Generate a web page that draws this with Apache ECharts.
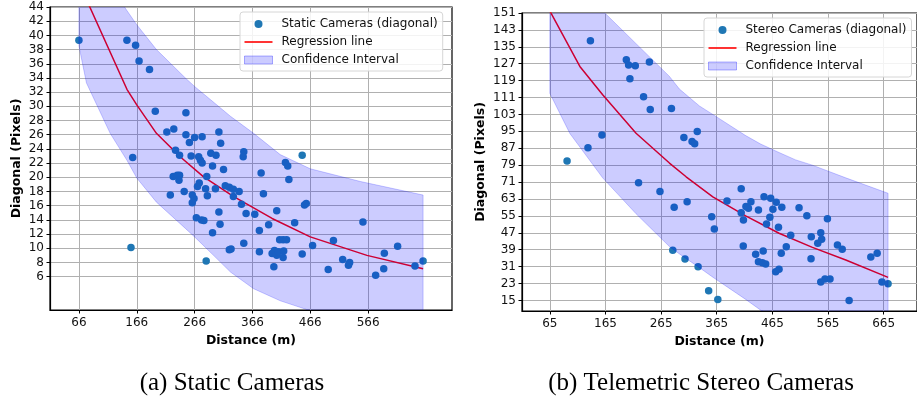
<!DOCTYPE html>
<html>
<head>
<meta charset="utf-8">
<script src="https://cdn.jsdelivr.net/npm/echarts@6/dist/echarts.min.js"></script>
<style>
html,body{margin:0;padding:0;background:#fff;}
#chart{width:917px;height:398px;}
</style>
</head>
<body>
<div id="chart"></div>
<script>
// ---------- Data: (a) Static cameras ----------
const staticPoints = [
  [66,39.3],[149,39.3],[164,38.6],[170,36.4],[188,35.2],[198,29.3],[251,29.1],[218,26.4],[230,26.8],[251,26.0],
  [257,24.9],[266,25.6],[279,25.7],[308,26.4],[311,24.8],[159,22.8],[233,23.8],[240,23.1],[260,23.0],[273,22.9],
  [276,22.4],[279,22.0],[294,23.4],[303,23.1],[297,21.6],[316,21.1],[229,20.1],[240,20.3],[287,20.1],[156,10.1],
  [286,8.2],[224,17.5],[236,20.3],[239,19.6],[248,18.0],[262,17.5],[262,16.4],[265,17.0],[271,18.7],[274,19.2],
  [285,18.4],[288,17.4],[302,18.4],[308,15.1],[310,13.4],[297,12.2],[269,14.3],[278,14.0],[282,13.9],[319,18.8],
  [326,9.8],[326,18.6],[333,18.3],[343,18.0],[333,17.3],[347,16.2],[355,14.9],[370,14.8],[329,9.9],[351,10.7],
  [381,20.6],[385,17.7],[378,12.5],[378,9.5],[394,13.3],[408,15.3],[413,11.2],[419,11.2],[425,11.2],[400,9.25],
  [404,9.7],[408,9.0],[411,9.5],[419,8.7],[420,9.6],[403,7.4],[423,22.1],[427,21.6],[429,19.7],[439,13.6],
  [452,9.2],[456,16.1],[459,16.3],[470,10.4],[497,7.0],[506,11.1],[522,8.4],[532,7.6],[534,8.0],[557,13.7],
  [579,6.2],[593,7.1],[594,9.3],[617,10.3],[647,7.5],[661,8.2],[351,23.6],[350,22.9],[452,23.1]
];
const staticRegression = [
  [66,47.4],[149,32.4],[166,30.2],[200,26.2],[241,22.9],[281,20.1],[333,17.3],[400,14.2],[466,11.6],[564,9.0],[661,7.1]
];
const staticBandX     = [66, 79, 120, 149, 166, 200, 250, 266, 300, 328, 368, 414, 466, 553, 661];
const staticBandUpper = [57, 54, 47, 43.5, 41.5, 38, 34, 32.8, 30.5, 28.6, 26.2, 23.2, 21.2, 19.4, 17.5];
const staticBandLower = [38.5, 33.3, 26.2, 22.4, 19.9, 16.5, 12.8, 11.6, 8.9, 6.65, 4.3, 2.6, 1.2, -1, -3];
const staticXTicks = [66,166,266,366,466,566];
const staticYTicks = [6,8,10,12,14,16,18,20,22,24,26,28,30,32,34,36,38,40,42,44];

// ---------- Data: (b) Telemetric stereo cameras ----------
const stereoPoints = [
  [138,137.9],[96,81.0],[133.6,87.3],[158.7,93.3],[202.5,128.9],[206.6,126.4],[218.6,126.0],[244,127.8],[209,119.9],[233.5,111.4],
  [245.5,105.3],[283.6,105.8],[306,92.1],[320.7,90.2],[325.4,89.1],[330,94.9],[224.5,70.7],[263,66.5],[288.5,59.1],[311.8,61.7],
  [286,38.8],[308,34.6],[331.5,30.9],[350.5,19.6],[367,15.5],[356,54.6],[360.7,48.8],[383.5,62.1],[409,67.9],[409,56.5],
  [413,53.1],[417.5,59.4],[422,58.6],[426.5,61.7],[440,57.8],[412.7,40.7],[435,36.9],[448.5,38.4],[440,33.3],[447,32.8],
  [453,32.2],[450,64.1],[462,63.3],[472,61.4],[466,58.1],[482,59.1],[454.5,51.2],[460.5,54.3],[476,49.6],[498,45.8],
  [490,40.4],[481,37.3],[471,28.6],[477,29.7],[513,58.9],[527,55.1],[564,53.7],[552,47.0],[535,45.1],[553.6,43.9],
  [546.6,42.0],[534.5,34.7],[582,41.2],[590.6,39.2],[552,23.7],[559.6,25.1],[568.6,25.2],[603,15.0],[642,35.5],[653.4,37.3],
  [662,23.7],[673,22.9]
];
const stereoRegression = [
  [65,152],[119,125.7],[160,112.3],[220,94.1],[280,80],[310,73.5],[358,64],[417,55],[477,46.8],[537,40.1],[597,34.1],[673,25.9]
];
const stereoBandX     = [65, 101, 160, 220, 280, 298, 334, 358, 417, 444, 477, 507, 537, 597, 673];
const stereoBandUpper = [191, 172, 152, 136.5, 121, 115, 107, 103, 93, 89, 85, 81.5, 79, 73, 65.7];
const stereoBandLower = [113, 94, 73, 56, 40.5, 37, 30.5, 26, 15.5, 10.4, 6, 2, 0, -5, -13];
const stereoXTicks = [65,165,265,365,465,565,665];
const stereoYTicks = [15,23,31,39,47,55,63,71,79,87,95,103,111,119,127,135,143,151];

// ---------- Styling ----------
const FONT = 'DejaVu Sans';
const BAND_FILL = 'rgba(0,0,255,0.2)';
const POINT_COLOR = '#1f77b4';

function xAxisCfg(gridIndex, min, max, ticks) {
  return {
    type: 'value', gridIndex, min, max,
    name: 'Distance (m)', nameLocation: 'middle', nameGap: 21,
    nameTextStyle: { fontFamily: FONT, fontSize: 12.5, fontWeight: 'bold', color: '#000' },
    axisLine: { show: true, onZero: false, lineStyle: { color: '#000', width: 1.2 } },
    axisTick: { show: true, inside: false, length: 3.5, customValues: ticks, lineStyle: { color: '#000', width: 1 } },
    axisLabel: { customValues: ticks, margin: 7, fontFamily: FONT, fontSize: 12, color: '#111' },
    splitLine: { show: true, lineStyle: { color: '#b0b0b0', width: 1 } }
  };
}
function yAxisCfg(gridIndex, min, max, ticks, nameGap) {
  return {
    type: 'value', gridIndex, min, max,
    name: 'Diagonal (Pixels)', nameLocation: 'middle', nameGap, nameRotate: 90,
    nameTextStyle: { fontFamily: FONT, fontSize: 12.5, fontWeight: 'bold', color: '#000' },
    axisLine: { show: true, onZero: false, lineStyle: { color: '#000', width: 1.2 } },
    axisTick: { show: true, inside: false, length: 3.5, customValues: ticks, lineStyle: { color: '#000', width: 1 } },
    axisLabel: { customValues: ticks, margin: 6, fontFamily: FONT, fontSize: 12, color: '#111' },
    splitLine: { show: true, lineStyle: { color: '#b0b0b0', width: 1 } }
  };
}
function bandSeries(name, axisIndex, xs, lo, hi) {
  return {
    type: 'custom', name, xAxisIndex: axisIndex, yAxisIndex: axisIndex, z: 3, clip: true,
    data: [[xs[0], hi[0]]],
    itemStyle: { color: BAND_FILL },
    renderItem: function (params, api) {
      const pts = [];
      for (let i = 0; i < xs.length; i++) pts.push(api.coord([xs[i], hi[i]]));
      for (let i = xs.length - 1; i >= 0; i--) pts.push(api.coord([xs[i], lo[i]]));
      return {
        type: 'polygon', shape: { points: pts },
        style: { fill: BAND_FILL, stroke: 'rgba(0,0,255,0.2)', lineWidth: 1 }
      };
    }
  };
}
function legendCfg(left, top, scatterName) {
  return {
    orient: 'vertical', left, top,
    backgroundColor: 'rgba(255,255,255,0.85)', borderColor: '#d6d6d6', borderWidth: 1, borderRadius: 3,
    padding: [5, 5, 4, 4], itemGap: 4, itemWidth: 28, itemHeight: 8,
    textStyle: { fontFamily: FONT, fontSize: 12, color: '#111', lineHeight: 14, padding: [0, 0, 0, 4] },
    data: [
      { name: scatterName, icon: 'circle', itemStyle: { color: POINT_COLOR } },
      { name: 'Regression line', icon: 'path://M0,0 L28,0 L28,1.6 L0,1.6 Z', itemStyle: { color: '#ff0000', borderWidth: 0 } },
      { name: 'Confidence Interval', icon: 'rect', itemStyle: { color: BAND_FILL, borderColor: 'rgba(0,0,255,0.3)', borderWidth: 1 } }
    ]
  };
}

const option = {
  animation: false,
  backgroundColor: '#fff',
  grid: [
    { left: 50, top: 7, width: 402, height: 303, show: true, borderColor: '#000', borderWidth: 1.2, backgroundColor: 'transparent' },
    { left: 522, top: 13, width: 396, height: 298, show: true, borderColor: '#000', borderWidth: 1.2, backgroundColor: 'transparent' }
  ],
  xAxis: [
    xAxisCfg(0, 16, 711, staticXTicks),
    xAxisCfg(1, 15, 725, stereoXTicks)
  ],
  yAxis: [
    yAxisCfg(0, 1.3, 44, staticYTicks, 27),
    yAxisCfg(1, 10, 151, stereoYTicks, 35)
  ],
  legend: [
    legendCfg(240, 12, 'Static Cameras (diagonal)'),
    legendCfg(704, 18, 'Stereo Cameras (diagonal)')
  ],
  series: [
    { type: 'scatter', name: 'Static Cameras (diagonal)', xAxisIndex: 0, yAxisIndex: 0, z: 2,
      symbolSize: 7.5, itemStyle: { color: POINT_COLOR, opacity: 1 }, data: staticPoints },
    { type: 'line', name: 'Regression line', xAxisIndex: 0, yAxisIndex: 0, z: 2, symbol: 'none', clip: true,
      lineStyle: { color: '#ff0000', width: 1.5 }, itemStyle: { color: '#ff0000' }, data: staticRegression },
    bandSeries('Confidence Interval', 0, staticBandX, staticBandLower, staticBandUpper),

    { type: 'scatter', name: 'Stereo Cameras (diagonal)', xAxisIndex: 1, yAxisIndex: 1, z: 2,
      symbolSize: 7.5, itemStyle: { color: POINT_COLOR, opacity: 1 }, data: stereoPoints },
    { type: 'line', name: 'Regression line', xAxisIndex: 1, yAxisIndex: 1, z: 2, symbol: 'none', clip: true,
      lineStyle: { color: '#ff0000', width: 1.5 }, itemStyle: { color: '#ff0000' }, data: stereoRegression },
    bandSeries('Confidence Interval', 1, stereoBandX, stereoBandLower, stereoBandUpper)
  ],
  graphic: [
    { type: 'text', x: 232, y: 383, style: { text: '(a) Static Cameras', align: 'center', verticalAlign: 'middle',
      font: '25px "Liberation Serif"', fill: '#000' } },
    { type: 'text', x: 701, y: 383, style: { text: '(b) Telemetric Stereo Cameras', align: 'center', verticalAlign: 'middle',
      font: '25px "Liberation Serif"', fill: '#000' } }
  ]
};

const chart = echarts.init(document.getElementById('chart'), null, { renderer: 'canvas' });
chart.setOption(option);
</script>
</body>
</html>
